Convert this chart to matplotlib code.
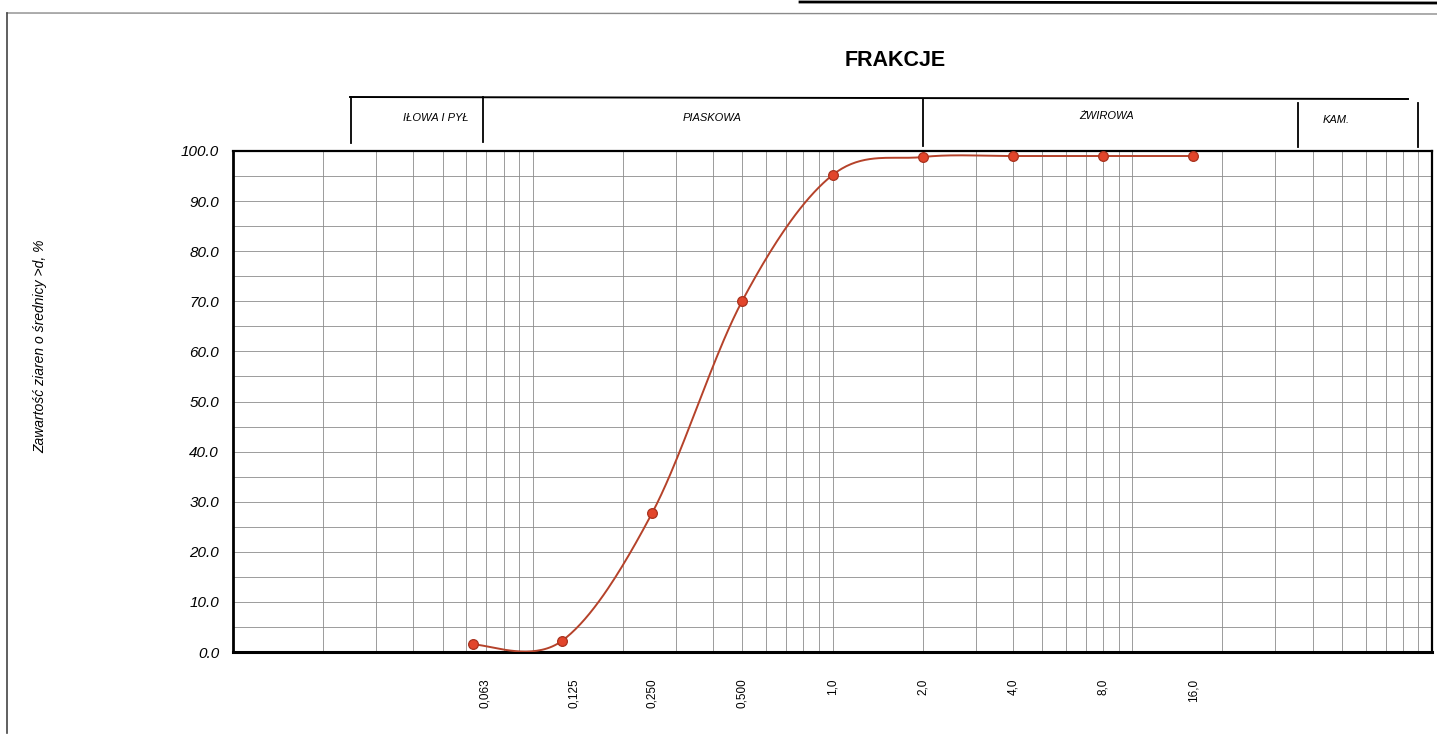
import numpy as np
import matplotlib
matplotlib.use('Agg')
import matplotlib.pyplot as plt
import matplotlib.transforms as mtrans
from matplotlib.ticker import FixedLocator, LogLocator, NullFormatter
from matplotlib.lines import Line2D

plt.rcParams['font.family'] = ['Liberation Sans', 'DejaVu Sans']

# sieve sizes (mm) and content of grains > d (%)
sizes = [0.063, 0.125, 0.25, 0.5, 1.0, 2.0, 4.0, 8.0, 16.0]
content = [1.5, 2.2, 27.7, 70.1, 95.2, 98.8, 99.0, 99.0, 99.0]
size_labels = ['0,063', '0,125', '0,250', '0,500', '1,0', '2,0', '4,0', '8,0', '16,0']

fractions = ['IŁOWA I PYŁ', 'PIASKOWA', 'ŻWIROWA', 'KAM.']


def smooth(xs, ys, n=40):
    # Excel-like smoothed line (Catmull-Rom as cubic Bezier) in log-x space
    px = np.log10(xs)
    py = np.asarray(ys, dtype=float)
    P = np.column_stack([px, py])
    P = np.vstack([P[0], P, P[-1]])
    out = []
    t = np.linspace(0, 1, n)[:, None]
    for i in range(1, len(P) - 2):
        p0, p1, p2, p3 = P[i - 1], P[i], P[i + 1], P[i + 2]
        b1 = p1 + (p2 - p0) / 6
        b2 = p2 - (p3 - p1) / 6
        seg = ((1 - t) ** 3) * p1 + 3 * ((1 - t) ** 2) * t * b1 + 3 * (1 - t) * t ** 2 * b2 + t ** 3 * p2
        out.append(seg)
    out = np.vstack(out)
    return 10 ** out[:, 0], out[:, 1]


fig = plt.figure(figsize=(14.37, 7.35), dpi=100)
ax = fig.add_axes([233 / 1437, 1 - 652 / 735, 1199 / 1437, 501 / 735])

ax.set_xscale('log')
ax.set_xlim(0.01, 100)
ax.set_ylim(0, 100)

sx, sy = smooth(sizes, content)
ax.plot(sx, sy, color='#b5422a', lw=1.4, zorder=3)
ax.plot(sizes, content, 'o', ms=7, mfc='#e2452b', mec='#a8321e', mew=0.9, zorder=4, clip_on=False)

# x axis: labels at sieve sizes, grid on log decades
ax.xaxis.set_major_locator(FixedLocator(sizes))
ax.set_xticklabels(size_labels, rotation=90, fontsize=8.5)
ax.xaxis.set_minor_locator(LogLocator(base=10, subs=np.arange(1, 10), numticks=50))
ax.xaxis.set_minor_formatter(NullFormatter())
ax.xaxis.remove_overlapping_locs = False

ax.set_yticks(np.arange(0, 101, 10))
ax.set_yticklabels([f'{v:.1f}' for v in np.arange(0, 101, 10)], fontsize=11, style='italic')
ax.set_yticks(np.arange(5, 100, 10), minor=True)

ax.tick_params(axis='x', which='both', length=0, pad=19)
ax.tick_params(axis='y', which='both', length=0, pad=10)

# the first two size labels sit a little right of their points on the form
shift = mtrans.ScaledTranslation(12 / 100, 0, fig.dpi_scale_trans)
for lab in ax.get_xticklabels()[:2]:
    lab.set_transform(lab.get_transform() + shift)

ax.grid(True, which='minor', axis='x', color='#8c8c8c', lw=0.6)
ax.grid(True, which='both', axis='y', color='#8c8c8c', lw=0.6)
ax.set_axisbelow(True)

for side, lw in [('left', 2.0), ('bottom', 2.2), ('top', 1.6), ('right', 1.6)]:
    ax.spines[side].set_linewidth(lw)
    ax.spines[side].set_color('black')

ax.set_ylabel('Zawartość ziaren o średnicy >d, %', fontsize=10, style='italic')
ax.yaxis.set_label_coords(-(233 - 47) / 1199, 0.61)

# fractions bracket above the chart (figure pixel coordinates)
def fx(p):
    return p / 1437


def fy(p):
    return 1 - p / 735


fig.add_artist(Line2D([fx(350), fx(1408)], [fy(97), fy(99)], color='black', lw=1.4))
for xp, y0, y1 in [(351, 97, 143), (483, 97, 142), (923, 99, 146), (1298, 103, 147), (1418, 103, 147)]:
    fig.add_artist(Line2D([fx(xp), fx(xp)], [fy(y0), fy(y1)], color='black', lw=1.3))

for name, xp, yp in zip(fractions, [436, 712, 1107, 1336], [118, 118, 116, 120]):
    fig.text(fx(xp), fy(yp), name, ha='center', va='center', fontsize=8, style='italic')

fig.text(fx(895), fy(61), 'FRAKCJE', ha='center', va='center', fontsize=15.5, fontweight='bold')

# page frame of the scanned form
fig.add_artist(Line2D([fx(7), fx(1437)], [fy(13), fy(14)], color='#8a8a8a', lw=1.0))
fig.add_artist(Line2D([fx(7), fx(7)], [fy(13), fy(733)], color='#444444', lw=1.2))
fig.add_artist(Line2D([fx(800), fx(1437)], [fy(2), fy(3)], color='black', lw=2.0))

fig.savefig('out.png', dpi=100, facecolor='white')
